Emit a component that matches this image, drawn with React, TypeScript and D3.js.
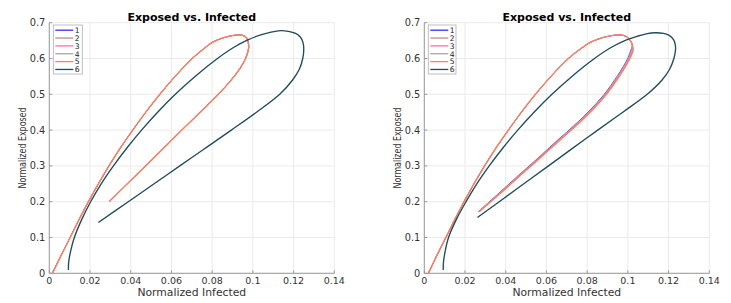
import React from 'react';
import * as d3 from 'd3';

// tick values / labels
const xTicks = [0, 0.02, 0.04, 0.06, 0.08, 0.1, 0.12, 0.14];
const xTickLabels = ['0', '0.02', '0.04', '0.06', '0.08', '0.1', '0.12', '0.14'];
const yTicks = [0, 0.1, 0.2, 0.3, 0.4, 0.5, 0.6, 0.7];
const yTickLabels = ['0', '0.1', '0.2', '0.3', '0.4', '0.5', '0.6', '0.7'];

const seriesNames = ['1', '2', '3', '4', '5', '6'];
const seriesColors = ['#3030ff', '#bc8f8f', '#ff6fa8', '#a8a4b0', '#f98060', '#1f4c5a'];

// left panel: series 1-5 lie on top of each other
const leftCurve1to5: [number, number][] = [
  [0.0015, 0.0], [0.0058, 0.05], [0.0102, 0.1], [0.0146, 0.15], [0.0192, 0.2],
  [0.0241, 0.25], [0.0293, 0.3], [0.0349, 0.35], [0.041, 0.4], [0.0474, 0.45],
  [0.0543, 0.5], [0.0618, 0.55], [0.0702, 0.6], [0.0765, 0.63], [0.08, 0.645],
  [0.084, 0.655], [0.0875, 0.661], [0.0905, 0.6645], [0.093, 0.6657], [0.095, 0.6645],
  [0.0965, 0.66], [0.0975, 0.65], [0.0979, 0.638], [0.0979, 0.628], [0.0964, 0.6],
  [0.094, 0.575], [0.0908, 0.55], [0.0871, 0.525], [0.083, 0.5], [0.0741, 0.45],
  [0.0651, 0.4], [0.0562, 0.35], [0.0473, 0.3], [0.0383, 0.25], [0.0294, 0.2],
];
const leftCurve6: [number, number][] = [
  [0.0094, 0.009], [0.0095, 0.03], [0.0104, 0.06], [0.0123, 0.1], [0.0159, 0.15],
  [0.0203, 0.2], [0.0255, 0.25], [0.0315, 0.3], [0.0381, 0.35], [0.0453, 0.4],
  [0.0532, 0.45], [0.0619, 0.5], [0.0716, 0.55], [0.0826, 0.6], [0.0903, 0.63],
  [0.0975, 0.652], [0.1035, 0.665], [0.1085, 0.673], [0.1135, 0.678], [0.1175, 0.676],
  [0.121, 0.67], [0.1233, 0.66], [0.1246, 0.645], [0.125, 0.625], [0.1245, 0.6],
  [0.1228, 0.57], [0.1195, 0.54], [0.1132, 0.5], [0.1018, 0.45], [0.0894, 0.4],
  [0.0768, 0.35], [0.0641, 0.3], [0.0515, 0.25], [0.0388, 0.2], [0.0241, 0.142],
];

// right panel: shared rising branch of 1-5, then separate return branches
const rightUpper: [number, number][] = [
  [0.002, 0.0], [0.0062, 0.05], [0.0106, 0.1], [0.015, 0.15], [0.0195, 0.2],
  [0.0244, 0.25], [0.0296, 0.3], [0.0352, 0.35], [0.0413, 0.4], [0.0477, 0.45],
  [0.0546, 0.5], [0.0622, 0.55], [0.0708, 0.6], [0.0775, 0.63], [0.0815, 0.645],
  [0.0858, 0.655], [0.0895, 0.661], [0.0927, 0.6645], [0.0955, 0.6657], [0.0978, 0.6645],
  [0.0996, 0.66], [0.1012, 0.65], [0.1022, 0.638],
];
const rightReturn1: [number, number][] = [
  [0.1015, 0.624], [0.0999, 0.6], [0.0947, 0.55], [0.0884, 0.5], [0.0804, 0.45],
  [0.0711, 0.4], [0.0656, 0.3725], [0.0555, 0.32], [0.0456, 0.27], [0.0359, 0.22],
  [0.0265, 0.172],
];
const rightReturn2: [number, number][] = [
  [0.1018, 0.624], [0.1002, 0.6], [0.095, 0.55], [0.0887, 0.5], [0.0807, 0.45],
  [0.0714, 0.4], [0.0659, 0.3725], [0.0558, 0.32], [0.0458, 0.27], [0.0361, 0.22],
  [0.0266, 0.172],
];
const rightReturn3: [number, number][] = [
  [0.1021, 0.624], [0.1005, 0.6], [0.0953, 0.55], [0.089, 0.5], [0.081, 0.45],
  [0.0717, 0.4], [0.0662, 0.3725], [0.0561, 0.32], [0.0461, 0.27], [0.0363, 0.22],
  [0.0267, 0.172],
];
const rightReturn4: [number, number][] = [
  [0.1023, 0.624], [0.1007, 0.6], [0.0955, 0.55], [0.0892, 0.5], [0.0812, 0.45],
  [0.0719, 0.4], [0.0664, 0.3725], [0.0563, 0.32], [0.0463, 0.27], [0.0365, 0.22],
  [0.0268, 0.172],
];
const rightReturn5: [number, number][] = [
  [0.1026, 0.624], [0.101, 0.6], [0.0958, 0.55], [0.0895, 0.5], [0.0815, 0.45],
  [0.0722, 0.4], [0.0667, 0.3725], [0.0565, 0.32], [0.0465, 0.27], [0.0367, 0.22],
  [0.027, 0.172],
];
const rightCurve6: [number, number][] = [
  [0.0093, 0.009], [0.0094, 0.03], [0.0102, 0.06], [0.0119, 0.1], [0.0157, 0.15],
  [0.0205, 0.2], [0.0258, 0.25], [0.0319, 0.3], [0.0386, 0.35], [0.0459, 0.4],
  [0.0539, 0.45], [0.0627, 0.5], [0.0725, 0.55], [0.0836, 0.6], [0.0915, 0.63],
  [0.0985, 0.65], [0.1045, 0.662], [0.109, 0.669], [0.1135, 0.672], [0.1175, 0.67],
  [0.1205, 0.664], [0.1225, 0.652], [0.1233, 0.638], [0.1234, 0.624], [0.1226, 0.6],
  [0.1205, 0.57], [0.1168, 0.54], [0.1095, 0.5], [0.0975, 0.45], [0.0852, 0.4],
  [0.0716, 0.344], [0.061, 0.3], [0.0489, 0.25], [0.0368, 0.2], [0.0261, 0.156],
];

const leftSeries = [leftCurve1to5, leftCurve1to5, leftCurve1to5, leftCurve1to5, leftCurve1to5, leftCurve6];
const rightSeries = [
  rightUpper.concat(rightReturn1),
  rightUpper.concat(rightReturn2),
  rightUpper.concat(rightReturn3),
  rightUpper.concat(rightReturn4),
  rightUpper.concat(rightReturn5),
  rightCurve6,
];
const lineWidths = [0.9, 0.9, 0.9, 0.9, 1.4, 1.35];

const FONT = 'DejaVu Sans, sans-serif';

function Panel({ x0, series, legendW }: { x0: number; series: [number, number][][]; legendW: number }) {
  const x1 = x0 + 285;
  const yTop = 22.7;
  const yBot = 273.3;
  const x = d3.scaleLinear().domain([0, 0.14]).range([x0, x1]);
  const y = d3.scaleLinear().domain([0, 0.7]).range([yBot, yTop]);
  const line = d3.line<[number, number]>()
    .x(d => x(d[0]))
    .y(d => y(d[1]))
    .curve(d3.curveCatmullRom.alpha(0.5));
  const cx = (x0 + x1) / 2;
  const lx = x0 + 4;
  const ly = 25;

  return (
    <g>
      {/* grid */}
      {xTicks.map((t, i) => (
        <line key={'gx' + i} x1={x(t)} x2={x(t)} y1={yTop} y2={yBot} stroke="#ebebeb" strokeWidth={1} />
      ))}
      {yTicks.map((t, i) => (
        <line key={'gy' + i} x1={x0} x2={x1} y1={y(t)} y2={y(t)} stroke="#ebebeb" strokeWidth={1} />
      ))}
      {/* axes */}
      <line x1={x0} x2={x0} y1={yTop} y2={yBot} stroke="#9a9a9a" strokeWidth={1} />
      <line x1={x0} x2={x1} y1={yBot} y2={yBot} stroke="#9a9a9a" strokeWidth={1} />
      {xTicks.map((t, i) => (
        <g key={'tx' + i}>
          <line x1={x(t)} x2={x(t)} y1={yBot} y2={yBot - 3} stroke="#9a9a9a" />
          <text x={x(t)} y={yBot + 10.8} textAnchor="middle" fontSize={9.5} fontFamily={FONT} fill="#333">
            {xTickLabels[i]}
          </text>
        </g>
      ))}
      {yTicks.map((t, i) => (
        <g key={'ty' + i}>
          <line x1={x0} x2={x0 + 3} y1={y(t)} y2={y(t)} stroke="#9a9a9a" />
          <text x={x0 - 4} y={y(t) + 3.5} textAnchor="end" fontSize={9.8} fontFamily={FONT} fill="#333">
            {yTickLabels[i]}
          </text>
        </g>
      ))}
      {/* curves */}
      {series.map((s, i) => (
        <path key={'s' + i} d={line(s) || ''} fill="none" stroke={seriesColors[i]} strokeWidth={lineWidths[i]} />
      ))}
      {/* titles */}
      <text x={cx} y={20.5} textAnchor="middle" fontSize={11} fontWeight="bold" fontFamily={FONT} fill="#000">
        Exposed vs. Infected
      </text>
      <text x={cx} y={295.5} textAnchor="middle" fontSize={10.8} fontFamily={FONT} fill="#333">
        Normalized Infected
      </text>
      <text
        transform={`translate(${x0 - 27.5},148) rotate(-90) scale(0.72,1)`}
        textAnchor="middle"
        dominantBaseline="central"
        fontSize={11}
        fontFamily={FONT}
        fill="#333"
      >
        Normalized Exposed
      </text>
      {/* legend */}
      <rect x={lx} y={ly} width={legendW} height={49} fill="#fff" stroke="#b0b0b0" strokeWidth={0.8} />
      {seriesNames.map((n, i) => (
        <g key={'lg' + i}>
          <line x1={lx + 2} x2={lx + 20} y1={ly + 5.2 + i * 7.85} y2={ly + 5.2 + i * 7.85} stroke={seriesColors[i]} strokeWidth={1.3} />
          <text x={lx + 21.5} y={ly + 8 + i * 7.85} fontSize={7.6} fontFamily={FONT} fill="#222">
            {n}
          </text>
        </g>
      ))}
    </g>
  );
}

export default function App() {
  return (
    <svg width={731} height={303} style={{ position: 'absolute', left: 0, top: 0, background: '#fff' }}>
      <rect width={731} height={303} fill="#fff" />
      <Panel x0={49.3} series={leftSeries} legendW={29} />
      <Panel x0={424.3} series={rightSeries} legendW={27.7} />
    </svg>
  );
}
